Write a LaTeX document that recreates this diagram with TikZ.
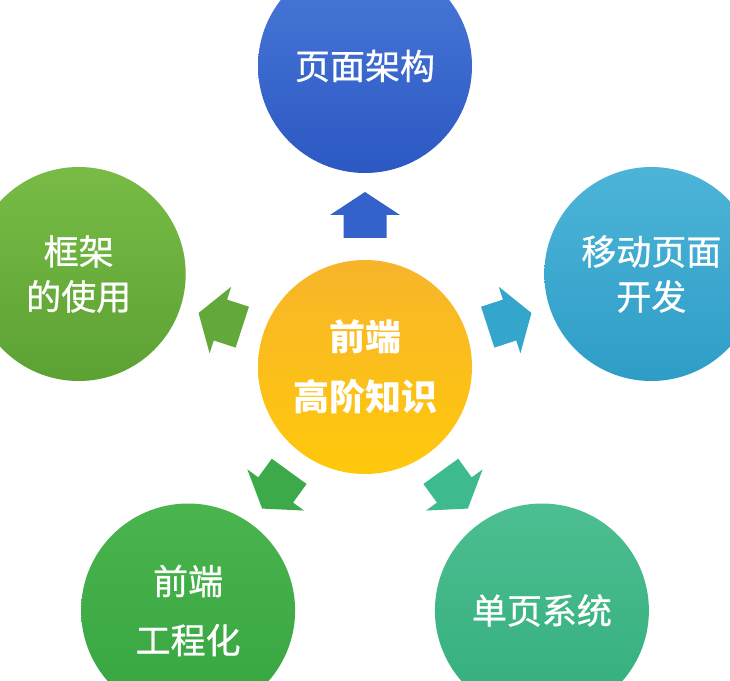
\documentclass[tikz,border=0pt]{standalone}
\usepackage{fontspec}
\setmainfont{Noto Sans CJK SC}
\newfontfamily\cjkmed[FakeBold=0.8]{Noto Sans CJK SC}
\usetikzlibrary{calc}
\definecolor{bluetop}{HTML}{4A79D9}
\definecolor{bluebot}{HTML}{2C58C2}
\definecolor{lgtop}{HTML}{78BB46}
\definecolor{lgbot}{HTML}{5CA233}
\definecolor{cytop}{HTML}{4DB4D8}
\definecolor{cybot}{HTML}{2E9DC6}
\definecolor{yetop}{HTML}{F7B52A}
\definecolor{yebot}{HTML}{FFC80C}
\definecolor{gntop}{HTML}{4AB44D}
\definecolor{gnbot}{HTML}{36A541}
\definecolor{tgtop}{HTML}{4DBE91}
\definecolor{tgbot}{HTML}{33AE7D}
\definecolor{arblue}{HTML}{3462CA}
\definecolor{arlg}{HTML}{62A83A}
\definecolor{arcy}{HTML}{35A6CB}
\definecolor{argn}{HTML}{3CAA48}
\definecolor{artg}{HTML}{3DBB8C}
\newcommand\blockarrow[3]{%
  \fill[#3, shift={(#1)}, rotate=#2]
    (-23,-21.5) -- (0,-21.5) -- (0,-35) -- (23,0) -- (0,35) -- (0,21.5) -- (-23,21.5) -- cycle;}
\begin{document}
\begin{tikzpicture}[x=1pt,y=-1pt,
  ball/.style={circle, minimum size=214pt, inner sep=0pt, text=white, align=center},
  normaltext/.style={font=\cjkmed\fontsize{35}{45}\selectfont},
  widetext/.style={font=\cjkmed\fontsize{35}{59}\selectfont},
  boldtext/.style={font=\fontsize{36}{60}\selectfont\bfseries}]
\useasboundingbox (0,0) rectangle (730,680);
\fill[white] (0,0) rectangle (730,680);
\node[ball, boldtext, top color=yetop, bottom color=yebot] (c) at (365,367) {前端\\高阶知识};
\node[ball, normaltext, top color=bluetop, bottom color=bluebot] (top) at (365,66) {页面架构};
\node[ball, normaltext, top color=lgtop, bottom color=lgbot] (lft) at (78.7,274) {框架\\的使用};
\node[ball, normaltext, top color=cytop, bottom color=cybot] (rgt) at (651.3,274) {移动页面\\开发};
\node[ball, widetext, top color=gntop, bottom color=gnbot] (bl) at (188.1,610.5) {前端\\工程化};
\node[ball, normaltext, top color=tgtop, bottom color=tgbot] (br) at (541.9,610.5) {单页系统};
\coordinate (a1) at ($(c)!0.505!(top)$);
\coordinate (a2) at ($(c)!0.505!(lft)$);
\coordinate (a3) at ($(c)!0.505!(rgt)$);
\coordinate (a4) at ($(c)!0.505!(bl)$);
\coordinate (a5) at ($(c)!0.505!(br)$);
\blockarrow{a1}{90}{arblue}
\blockarrow{a2}{162}{arlg}
\blockarrow{a3}{18}{arcy}
\blockarrow{a4}{234}{argn}
\blockarrow{a5}{306}{artg}
\end{tikzpicture}
\end{document}
